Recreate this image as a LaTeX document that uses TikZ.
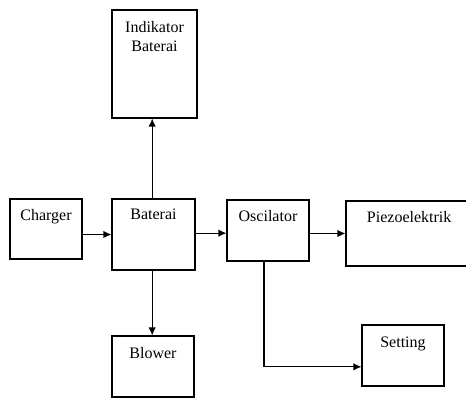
\documentclass[tikz,border=0pt]{standalone}
\usepackage{fontspec}
\setmainfont{Liberation Serif}
\newfontfamily\hurufblok{Liberation Serif}
\usetikzlibrary{positioning,arrows.meta}

\begin{document}
\begin{tikzpicture}[
		x=0.75pt, y=-0.75pt,
		blok/.style={
			draw,
			line width=0.8pt,
			inner sep=0pt
		},
		teks/.style={
			inner sep=0pt,
			align=center,
			font=\hurufblok\fontsize{12}{14}\selectfont
		},
		panah/.style={
			-{Latex[length=6pt,width=5.5pt]},
			line width=0.8pt
		}
		]
		
		\path[use as bounding box, clip] (0,0) rectangle (466,398);
		
		\node[blok, minimum width=63.75pt, minimum height=81pt,
			label={[teks, below=9pt]north:Indikator\\Baterai}] at (154.5, 64)
		(indikator) {};
		
		\node[blok, minimum width=54pt, minimum height=45pt,
			label={[teks, below=8pt]north:Charger}] at (46, 229)
		(charger) {};
		
		\node[blok, minimum width=62.25pt, minimum height=53.25pt,
			label={[teks, below=8pt]north:Baterai}] at (153.5, 234.5)
		(baterai) {};
		
		\node[blok, minimum width=61.5pt, minimum height=45.75pt,
			label={[teks, below=8pt]north:Oscilator}] at (268, 230.5)
		(oscilator) {};
		
		\node[blok, minimum width=96.75pt, minimum height=48.75pt,
			label={[teks, below=8pt, xshift=-1pt]north:Piezoelektrik}] at (410.5, 233.5)
		(piezo) {};
		
		\node[blok, minimum width=61.5pt, minimum height=45.75pt,
			label={[teks, below=9pt]north:Blower}] at (153, 366.5)
		(blower) {};
		
		\node[blok, minimum width=61.5pt, minimum height=45.75pt,
			label={[teks, below=9pt]north:Setting}] at (403, 355.5)
		(setting) {};
		
		\draw[panah] (charger.east |- baterai.west) -- (baterai.west);
		\draw[panah] ([yshift=1pt]baterai.east) -- ([yshift=1pt]baterai.east -| oscilator.west);
		\draw[panah] (oscilator.east |- piezo.west) -- (piezo.west);
		\draw[panah] ([xshift=-1pt]baterai.north) -- ([xshift=-1pt]baterai.north |- indikator.south);
		\draw[panah] ([xshift=-1pt]baterai.south) -- ([xshift=-1pt]baterai.south |- blower.north);
		\draw[panah] ([xshift=-3pt]oscilator.south) |- ([yshift=-8.5pt]setting.west);
		
		\end{tikzpicture}
\end{document}
